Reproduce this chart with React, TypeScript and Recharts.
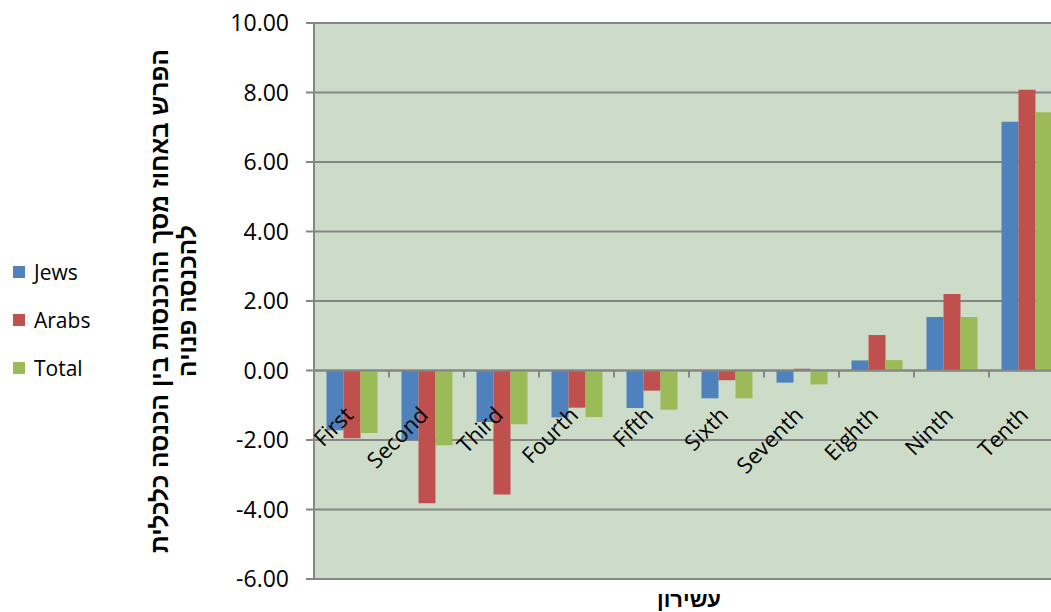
import React from "react";
import {
  ComposedChart,
  Bar,
  Line,
  XAxis,
  YAxis,
  CartesianGrid,
  Legend,
  LabelList,
  ReferenceLine,
} from "recharts";

const categories = ["First", "Second", "Third", "Fourth", "Fifth", "Sixth", "Seventh", "Eighth", "Ninth", "Tenth"];
const jews = [-1.72, -2.0, -1.48, -1.35, -1.08, -0.8, -0.35, 0.29, 1.54, 7.16];
const arabs = [-1.95, -3.82, -3.57, -1.07, -0.58, -0.28, 0.05, 1.02, 2.2, 8.08];
const total = [-1.8, -2.15, -1.55, -1.34, -1.13, -0.8, -0.4, 0.3, 1.54, 7.43];
const yTicks = [-6, -4, -2, 0, 2, 4, 6, 8, 10];
const seriesNames = ["Jews", "Arabs", "Total"];
const yTitleLines = ["הפרש באחוז מסך ההכנסות בין הכנסה כלכלית", "להכנסה פנויה"];
const xTitle = "עשירון";

const data = categories.map((name, i) => ({
  name,
  Jews: jews[i],
  Arabs: arabs[i],
  Total: total[i],
  base: 0,
}));

const CHART_W = 1064;
const CHART_H = 612;
const Y_AXIS_W = 314;
const HALF_BAND = (CHART_W - Y_AXIS_W) / categories.length / 2;
const GRID = "#868686";
const LATIN = "'Open Sans', 'Liberation Sans', sans-serif";
const HEB = "'Liberation Sans', 'DejaVu Sans', sans-serif";

const CategoryLabel = (props: any) => {
  const { x, y, value } = props;
  const ax = x + 3;
  const ay = y + 46;
  return (
    <g>
      <line x1={x - HALF_BAND} y1={y} x2={x - HALF_BAND} y2={y + 7} stroke={GRID} strokeWidth={2} />
      <text
        x={ax}
        y={ay}
        transform={`rotate(-45 ${ax} ${ay})`}
        textAnchor="end"
        fontSize={22}
        fontFamily={LATIN}
        fill="#000"
      >
        {value}
      </text>
    </g>
  );
};

const YTitle = (props: any) => {
  const vb = props.viewBox || { y: 23, height: 556 };
  const cx = 168;
  const cy = vb.y + vb.height / 2;
  return (
    <text
      x={cx}
      y={cy}
      transform={`rotate(-90 ${cx} ${cy})`}
      textAnchor="middle"
      fontSize={24.5}
      fontWeight="bold"
      fontFamily={HEB}
      fill="#000"
    >
      <tspan x={cx} dy={0}>{yTitleLines[0]}</tspan>
      <tspan x={cx} dy={28}>{yTitleLines[1]}</tspan>
    </text>
  );
};

const XTitle = (props: any) => {
  const vb = props.viewBox || { x: 314, width: 750, y: 579 };
  return (
    <text
      x={vb.x + vb.width / 2}
      y={607}
      textAnchor="middle"
      fontSize={22}
      fontWeight="bold"
      fontFamily={HEB}
      fill="#000"
    >
      {xTitle}
    </text>
  );
};

const LegendContent = (props: any) => {
  const payload = (props.payload || [])
    .filter((p: any) => seriesNames.includes(p.value))
    .sort((a: any, b: any) => seriesNames.indexOf(a.value) - seriesNames.indexOf(b.value));
  return (
    <div style={{ fontFamily: LATIN, fontSize: 21, color: "#000" }}>
      {payload.map((p: any) => (
        <div key={p.value} style={{ display: "flex", alignItems: "center", height: 48 }}>
          <span style={{ display: "inline-block", width: 12, height: 12, background: p.color, marginRight: 9 }} />
          <span>{p.value}</span>
        </div>
      ))}
    </div>
  );
};

export default function App() {
  return (
    <div
      style={{
        position: "absolute",
        left: 0,
        top: 0,
        width: 1051,
        height: 612,
        overflow: "hidden",
        background: "#fff",
      }}
    >
      <ComposedChart
        width={CHART_W}
        height={CHART_H}
        data={data}
        margin={{ top: 23, right: 0, bottom: 0, left: 0 }}
        barCategoryGap="16.67%"
        barGap={0}
      >
        <CartesianGrid vertical={false} stroke={GRID} strokeWidth={2} fill="#cddcc9" fillOpacity={1} />
        <XAxis dataKey="name" tick={false} axisLine={false} tickLine={false} height={33} label={<XTitle />} />
        <YAxis
          width={Y_AXIS_W}
          domain={[-6, 10]}
          ticks={yTicks}
          tickFormatter={(v: number) => v.toFixed(2)}
          tick={{ fontSize: 23, fontFamily: LATIN, fill: "#000" }}
          tickSize={8}
          tickMargin={17}
          stroke={GRID}
          strokeWidth={2}
          tickLine={{ stroke: GRID, strokeWidth: 2 }}
          axisLine={{ stroke: GRID, strokeWidth: 2 }}
          label={<YTitle />}
        />
        <Legend
          layout="horizontal"
          verticalAlign="middle"
          align="center"
          content={<LegendContent />}
          wrapperStyle={{ left: 13, top: 248, width: 100 }}
        />
        <ReferenceLine y={0} stroke={GRID} strokeWidth={2} />
        <Bar dataKey="Jews" fill="#4f81bd" isAnimationActive={false} />
        <Bar dataKey="Arabs" fill="#c0504d" isAnimationActive={false} />
        <Bar dataKey="Total" fill="#9bbb59" isAnimationActive={false} />
        <Line
          dataKey="base"
          stroke="none"
          dot={false}
          activeDot={false}
          legendType="none"
          isAnimationActive={false}
        >
          <LabelList dataKey="name" content={<CategoryLabel />} />
        </Line>
      </ComposedChart>
    </div>
  );
}
